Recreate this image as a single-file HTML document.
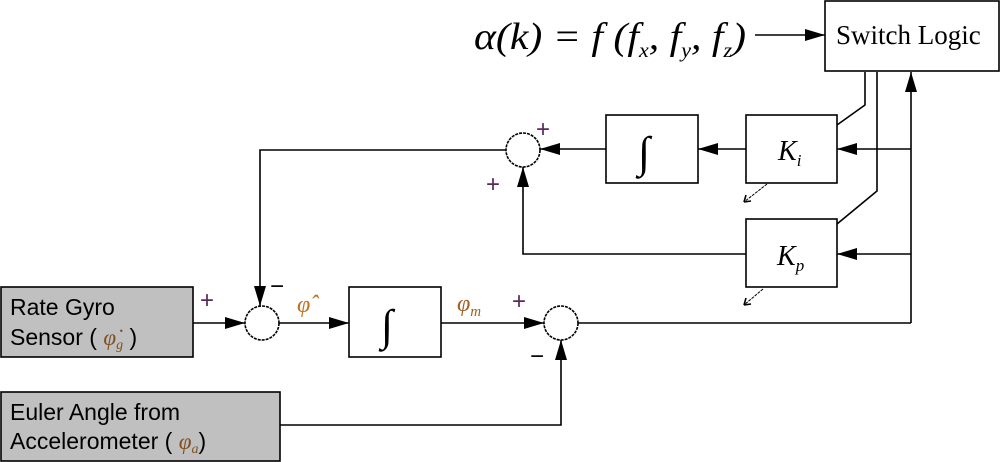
<!DOCTYPE html>
<html><head><style>body{margin:0;background:#fff}</style></head><body>
<svg width="1000" height="462" xmlns="http://www.w3.org/2000/svg" style="display:block">
<defs>
<marker id="b" viewBox="0 0 20 12" markerWidth="20" markerHeight="12" refX="20" refY="6" orient="auto" markerUnits="userSpaceOnUse"><path d="M0,0L20,6L0,12z" fill="#000"/></marker>
</defs>
<g stroke="#000" stroke-width="1.6" fill="none">
<rect x="825" y="1" width="174" height="70" fill="#fff"/>
<rect x="606" y="115" width="92" height="68"/>
<rect x="746" y="115" width="91" height="68"/>
<rect x="746" y="219" width="91" height="68"/>
<rect x="349" y="287" width="92" height="70"/>
<rect x="1" y="287" width="192" height="70" fill="#c0c0c0"/>
<rect x="1" y="392" width="279" height="69" fill="#c0c0c0"/>
<circle cx="523" cy="150" r="17" stroke-dasharray="3,1"/>
<circle cx="262" cy="323" r="17" stroke-dasharray="3,1"/>
<circle cx="561" cy="323" r="17" stroke-dasharray="3,1"/>
<line x1="755" y1="35" x2="825" y2="35" marker-end="url(#b)"/>
<polyline points="865,72 865,105 837,125"/>
<polyline points="877,72 877,191 837,224"/>
<line x1="911" y1="323" x2="911" y2="72" marker-end="url(#b)"/>
<line x1="911" y1="149" x2="837" y2="149" marker-end="url(#b)"/>
<line x1="911" y1="254" x2="837" y2="254" marker-end="url(#b)"/>
<line x1="746" y1="149" x2="698" y2="149" marker-end="url(#b)"/>
<line x1="606" y1="149" x2="540" y2="149" marker-end="url(#b)"/>
<polyline points="746,254 523,254 523,167" marker-end="url(#b)"/>
<polyline points="506,150 260,150 260,306" marker-end="url(#b)"/>
<line x1="193" y1="323" x2="245" y2="323" marker-end="url(#b)"/>
<line x1="279" y1="323" x2="349" y2="323" marker-end="url(#b)"/>
<line x1="441" y1="323" x2="544" y2="323" marker-end="url(#b)"/>
<polyline points="578,323 911,323"/>
<polyline points="280,425 561,425 561,340" marker-end="url(#b)"/>
<g stroke-width="1" stroke-dasharray="3,1"><line x1="767" y1="184" x2="744" y2="202"/><line x1="763" y1="289" x2="744" y2="305"/></g>
<path d="M744,202l2,-7M744,202l7,-1M744,305l2,-7M744,305l7,-1" stroke-width="1.6"/>
</g>
<g font-family="Liberation Serif, serif" fill="#000">
<text x="836" y="44" font-size="27">Switch Logic</text>
<text x="474" y="49" font-size="38" font-style="italic" textLength="272" lengthAdjust="spacingAndGlyphs">α(k) = f (f<tspan font-size="20" dy="8">x</tspan><tspan dy="-8">, f</tspan><tspan font-size="20" dy="8">y</tspan><tspan dy="-8">, f</tspan><tspan font-size="20" dy="8">z</tspan><tspan dy="-8">)</tspan></text>
<text x="778" y="160" font-size="28" font-style="italic">K<tspan font-size="17" dy="6">i</tspan></text>
<text x="777" y="265" font-size="28" font-style="italic">K<tspan font-size="17" dy="6">p</tspan></text>
<text x="638" y="167" font-size="44">∫</text>
<text x="381" y="340" font-size="44">∫</text>
<text x="297" y="312" font-size="24" font-style="italic" fill="#c07020">φ̂</text>
<text x="457" y="311" font-size="24" font-style="italic" fill="#a06020">φ<tspan font-size="15" dy="5">m</tspan></text>
</g>
<g font-family="Liberation Sans, sans-serif" font-size="24" fill="#5a2a5a">
<text x="200" y="308">+</text>
<text x="536" y="137">+</text>
<text x="486" y="192">+</text>
<text x="512" y="309">+</text>
<text x="270" y="294" fill="#000">−</text>
<text x="530" y="364" fill="#000">−</text>
</g>
<g font-family="Liberation Sans, sans-serif" font-size="23" fill="#000">
<text x="10" y="315">Rate Gyro</text>
<text x="10" y="345">Sensor (  <tspan font-family="Liberation Serif, serif" font-style="italic" fill="#805020">φ̇<tspan font-size="14" dy="4">g</tspan></tspan><tspan dy="-4"> )</tspan></text>
<text x="10" y="420">Euler Angle from</text>
<text x="10" y="449">Accelerometer (  <tspan font-family="Liberation Serif, serif" font-style="italic" fill="#805020">φ<tspan font-size="14" dy="4">a</tspan></tspan><tspan dy="-4">)</tspan></text>
</g>
</svg>
</body></html>
